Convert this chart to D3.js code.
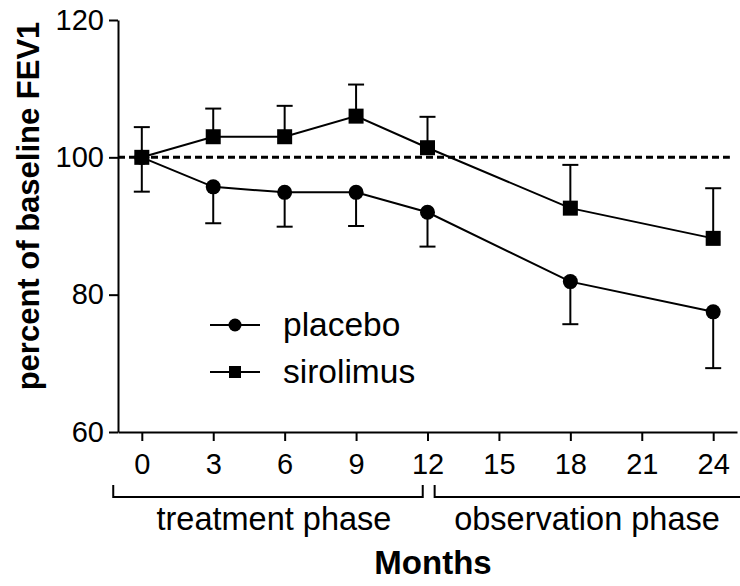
<!DOCTYPE html>
<html>
<head>
<meta charset="utf-8">
<script src="https://cdn.jsdelivr.net/npm/d3@7"></script>
<style>
  body { margin: 0; background: #fff; }
  svg { display: block; font-family: "Liberation Sans", Arial, sans-serif; }
</style>
</head>
<body>
<script>
// data
var months = [0, 3, 6, 9, 12, 18, 24];
var placebo = [100, 95.7, 94.9, 94.9, 92.0, 81.9, 77.5];
var placeboErr = [5.0, 5.3, 5.0, 4.9, 5.0, 6.2, 8.2];       // drawn downward
var sirolimus = [100, 103.0, 103.0, 106.0, 101.4, 92.6, 88.2];
var sirolimusErr = [4.4, 4.1, 4.5, 4.6, 4.5, 6.3, 7.3];      // drawn upward
var xTicks = [0, 3, 6, 9, 12, 15, 18, 21, 24];
var yTicks = [60, 80, 100, 120];
var phases = ["treatment phase", "observation phase"];
var phaseRanges = [[-1.2, 11.8], [12.3, 25.6]];
var phaseCenters = [5.55, 18.7];
var baseline = 100;

var w = 740, h = 586;

var svg = d3.select("body").append("svg")
  .attr("width", w)
  .attr("height", h);

// scales
var x = d3.scaleLinear().domain([-1, 25]).range([118, 737]);
var y = d3.scaleLinear().domain([60, 120]).range([432, 20]);

// axes
var xAxis = d3.axisBottom(x).tickValues(xTicks).tickSize(9).tickSizeOuter(0).tickPadding(12);
var yAxis = d3.axisLeft(y).tickValues(yTicks).tickSize(9).tickSizeOuter(0).tickPadding(5);

var gx = svg.append("g").attr("transform", "translate(0," + y(60) + ")").call(xAxis);
var gy = svg.append("g").attr("transform", "translate(" + x(-1) + ",0)").call(yAxis);

[gx, gy].forEach(function(g) {
  g.selectAll("path, line").attr("stroke", "#000").attr("stroke-width", 2);
  g.selectAll("text").attr("font-size", 29).attr("fill", "#000").attr("font-family", "Liberation Sans, Arial, sans-serif");
});

// baseline dashed line
svg.append("line")
  .attr("x1", x(-1)).attr("x2", x(24.7))
  .attr("y1", y(baseline)).attr("y2", y(baseline))
  .attr("stroke", "#000")
  .attr("stroke-width", 3)
  .attr("stroke-dasharray", "7,4");

// error bars
function errBars(vals, errs, dir) {
  var g = svg.append("g").attr("stroke", "#000").attr("stroke-width", 2);
  months.forEach(function(m, i) {
    var end = vals[i] + dir * errs[i];
    g.append("line").attr("x1", x(m)).attr("x2", x(m)).attr("y1", y(vals[i])).attr("y2", y(end));
    g.append("line").attr("x1", x(m) - 8).attr("x2", x(m) + 8).attr("y1", y(end)).attr("y2", y(end));
  });
}
errBars(sirolimus, sirolimusErr, 1);
errBars(placebo, placeboErr, -1);

// lines
var line = d3.line().x(function(d, i) { return x(months[i]); }).y(function(d) { return y(d); });
[placebo, sirolimus].forEach(function(s) {
  svg.append("path").datum(s)
    .attr("d", line)
    .attr("fill", "none")
    .attr("stroke", "#000")
    .attr("stroke-width", 2);
});

// markers
svg.selectAll(".pl").data(placebo).enter().append("circle")
  .attr("class", "pl")
  .attr("cx", function(d, i) { return x(months[i]); })
  .attr("cy", function(d) { return y(d); })
  .attr("r", 7.5)
  .attr("fill", "#000");

svg.selectAll(".si").data(sirolimus).enter().append("rect")
  .attr("class", "si")
  .attr("x", function(d, i) { return x(months[i]) - 7.5; })
  .attr("y", function(d) { return y(d) - 7.5; })
  .attr("width", 15)
  .attr("height", 15)
  .attr("fill", "#000");

// phase brackets
phaseRanges.forEach(function(r, i) {
  var x0 = x(r[0]), x1 = x(r[1]);
  svg.append("path")
    .attr("d", "M" + x0 + ",485V497H" + x1 + "V485")
    .attr("fill", "none")
    .attr("stroke", "#000")
    .attr("stroke-width", 2);
  svg.append("text")
    .attr("x", x(phaseCenters[i]))
    .attr("y", 530)
    .attr("text-anchor", "middle")
    .attr("font-size", 32.5)
    .text(phases[i]);
});

// axis titles
svg.append("text")
  .attr("x", 433)
  .attr("y", 574)
  .attr("text-anchor", "middle")
  .attr("font-size", 33)
  .attr("font-weight", "bold")
  .text("Months");

svg.append("text")
  .attr("transform", "translate(39,206) rotate(-90)")
  .attr("text-anchor", "middle")
  .attr("font-size", 31)
  .attr("font-weight", "bold")
  .text("percent of baseline FEV1");

// legend
var legend = svg.append("g");
var legendY = [325, 372];
["placebo", "sirolimus"].forEach(function(name, i) {
  var ly = legendY[i];
  legend.append("line").attr("x1", 210).attr("x2", 260).attr("y1", ly).attr("y2", ly)
    .attr("stroke", "#000").attr("stroke-width", 2);
  if (i == 0) {
    legend.append("circle").attr("cx", 235).attr("cy", ly).attr("r", 6.5).attr("fill", "#000");
  } else {
    legend.append("rect").attr("x", 229).attr("y", ly - 6).attr("width", 12).attr("height", 12).attr("fill", "#000");
  }
  legend.append("text")
    .attr("x", 283)
    .attr("y", ly + 11)
    .attr("font-size", 33.5)
    .text(name);
});
</script>
</body>
</html>
